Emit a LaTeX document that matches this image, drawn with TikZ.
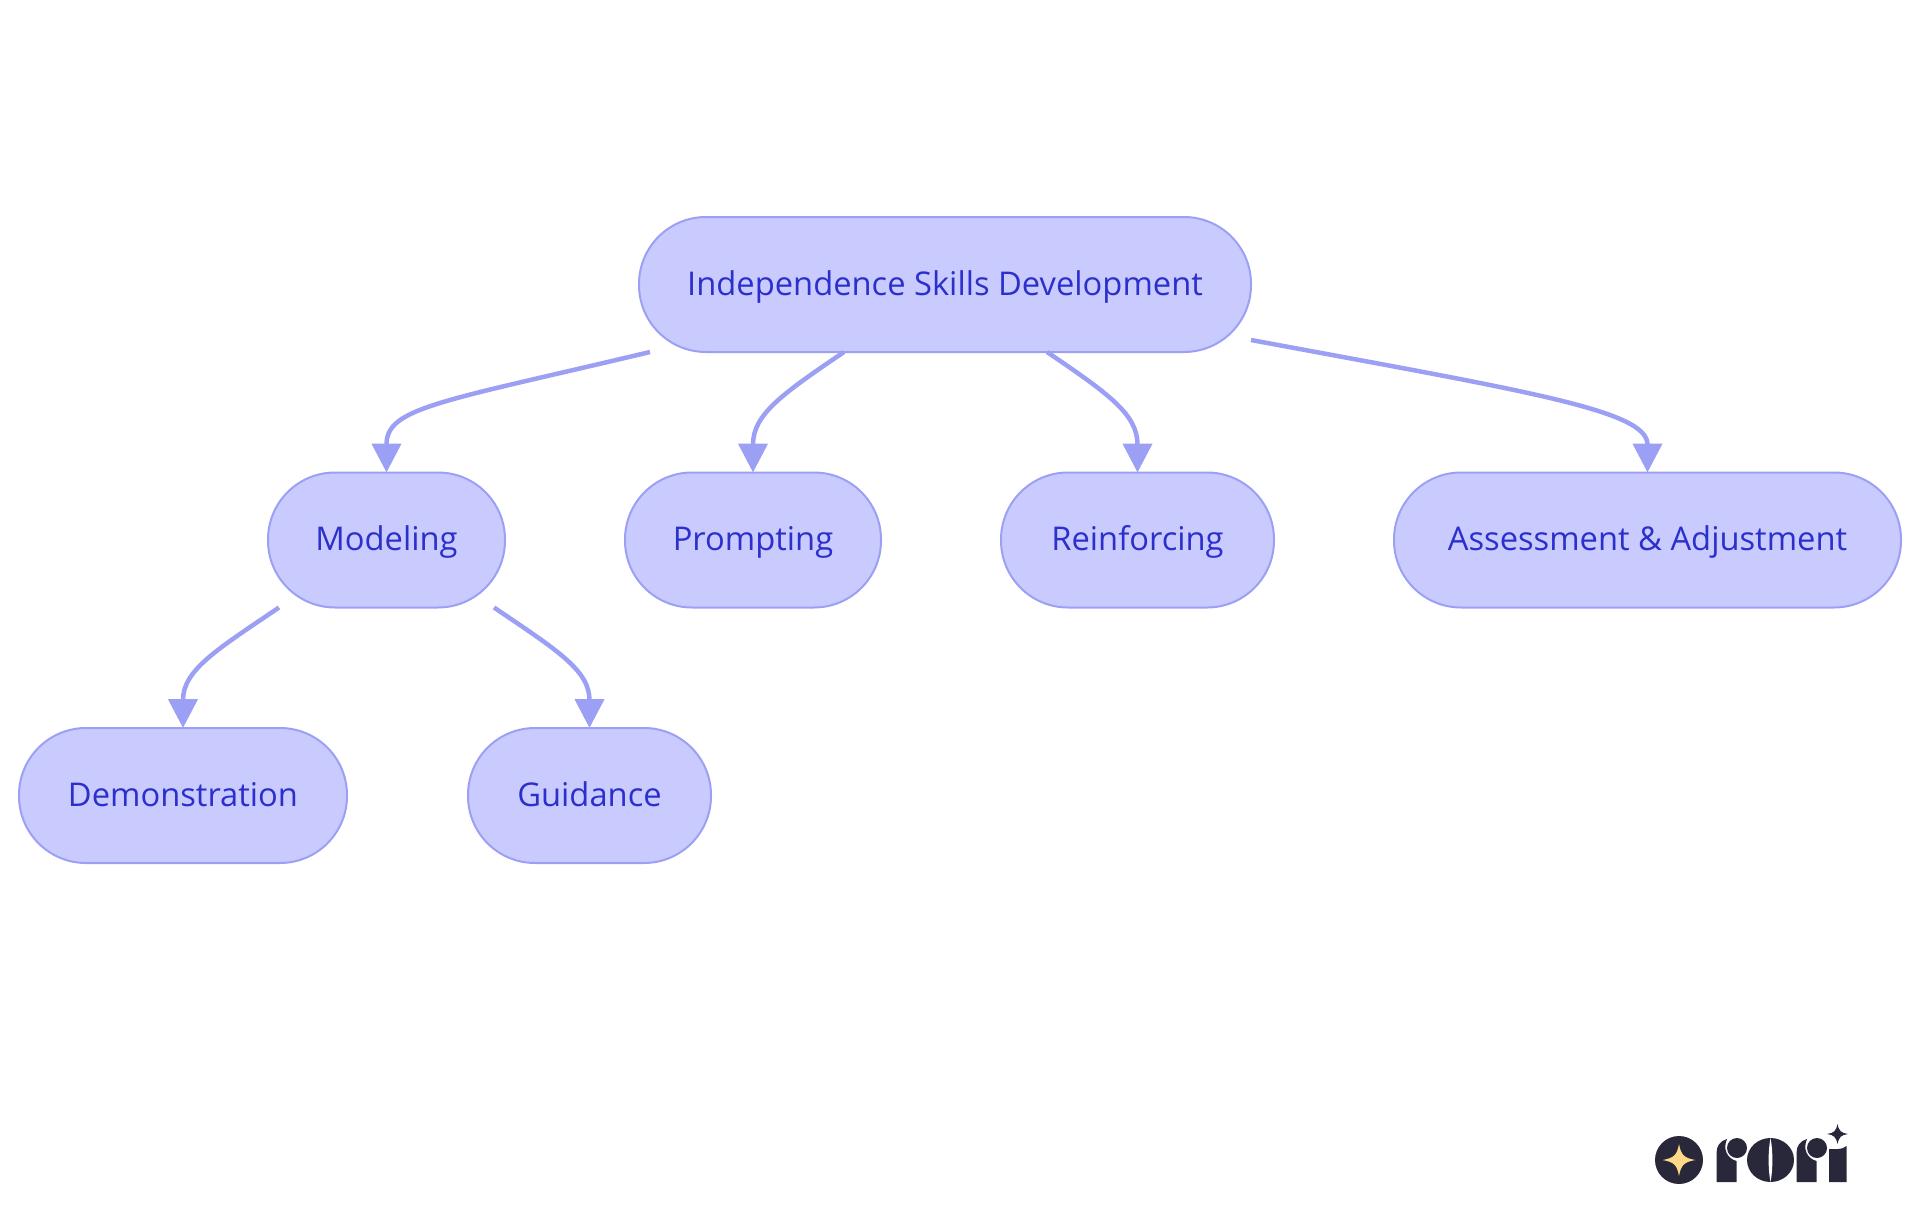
\documentclass[tikz,border=0pt]{standalone}
\usepackage{fontspec}
\usepackage{xcolor}
\usetikzlibrary{arrows.meta}
\setmainfont{Open Sans}
\definecolor{skillfill}{HTML}{C9CBFE}
\definecolor{skillline}{HTML}{9CA0F5}
\definecolor{skilltext}{HTML}{2B2FCB}
\definecolor{logodark}{HTML}{29283A}
\definecolor{logostar}{HTML}{FFD98A}
\begin{document}
\begin{tikzpicture}[x=1pt,y=1pt]
        \tikzset{skill/.style={draw=skillline,fill=skillfill,line width=2pt,
                text=skilltext,rounded corners=67pt,minimum height=135pt,
                inner sep=0pt,outer sep=0pt,text height=24pt,text depth=3pt,
                font=\fontsize{32.7}{40}\selectfont},
            flow/.style={draw=skillline,line width=4.5pt,
                -{Triangle[length=29pt,width=29pt]}},
            logo/.style={fill=logodark,draw=none}}
        \useasboundingbox (0,0) rectangle (1920,-1215);
        \node[skill,minimum width=612pt] (root) at (945,-284.5) {Independence Skills Development};
        \node[skill,minimum width=237pt] (modeling) at (386.5,-540) {Modeling};
        \node[skill,minimum width=256pt] (prompting) at (753,-540) {Prompting};
        \node[skill,minimum width=273pt] (reinforcing) at (1137.5,-540) {Reinforcing};
        \node[skill,minimum width=507pt] (assessment) at (1647.5,-540) {Assessment \& Adjustment};
        \node[skill,minimum width=328pt] (demonstration) at (183,-795.5) {Demonstration};
        \node[skill,minimum width=243pt] (guidance) at (589.5,-795.5) {Guidance};
        \draw[flow] ([xshift=11pt]root.south west) .. controls +(-210,-50) and +(0,65) .. (modeling.north);
        \draw[flow] ([xshift=205pt]root.south west) .. controls +(-62,-42) and +(0,58) .. (prompting.north);
        \draw[flow] ([xshift=-204pt]root.south east) .. controls +(62,-42) and +(0,58) .. (reinforcing.north);
        \draw[flow] ([yshift=12pt]root.south east) .. controls +(280,-52) and +(0,62) .. (assessment.north);
        \draw[flow] ([xshift=11pt]modeling.south west) .. controls +(-62,-42) and +(0,58) .. (demonstration.north);
        \draw[flow] ([xshift=-11pt]modeling.south east) .. controls +(62,-42) and +(0,58) .. (guidance.north);
        \fill[logo] (1679,-1160) circle (24);
        \fill[logostar] (1662.5,-1160) .. controls (1674,-1158) and (1677,-1155) .. (1679,-1144)
            .. controls (1681,-1155) and (1684,-1158) .. (1695.5,-1160)
            .. controls (1684,-1162) and (1681,-1165) .. (1679,-1176)
            .. controls (1677,-1165) and (1674,-1162) .. (1662.5,-1160) -- cycle;
        \fill[logo] (1716.5,-1182) -- (1716.5,-1153) .. controls (1716.5,-1146) and (1720,-1141) .. (1727,-1139)
            .. controls (1723,-1148) and (1726,-1158) .. (1736.5,-1161) -- (1736.5,-1182) -- cycle;
        \fill[logo] (1737,-1148) circle (10);
        \fill[logo] (1770.5,-1160) ellipse (23.5 and 22);
        \fill[white] (1770.5,-1138) .. controls (1768,-1150) and (1768,-1170) .. (1770.5,-1182)
            .. controls (1773,-1170) and (1773,-1150) .. (1770.5,-1138) -- cycle;
        \fill[logo] (1796.5,-1182) -- (1796.5,-1153) .. controls (1796.5,-1146) and (1800,-1141) .. (1807,-1139)
            .. controls (1803,-1148) and (1806,-1158) .. (1816.5,-1161) -- (1816.5,-1182) -- cycle;
        \fill[logo] (1817,-1148) circle (10);
        \fill[logo] (1829,-1182) -- (1829,-1149) .. controls (1835,-1149) and (1842,-1150) .. (1846.5,-1146) -- (1846.5,-1182) -- cycle;
        \fill[logo] (1827,-1134) .. controls (1834,-1133) and (1836,-1131) .. (1837.5,-1124)
            .. controls (1839,-1131) and (1841,-1133) .. (1848,-1134)
            .. controls (1841,-1135) and (1839,-1137) .. (1837.5,-1144)
            .. controls (1836,-1137) and (1834,-1135) .. (1827,-1134) -- cycle;
    \end{tikzpicture}
\end{document}
